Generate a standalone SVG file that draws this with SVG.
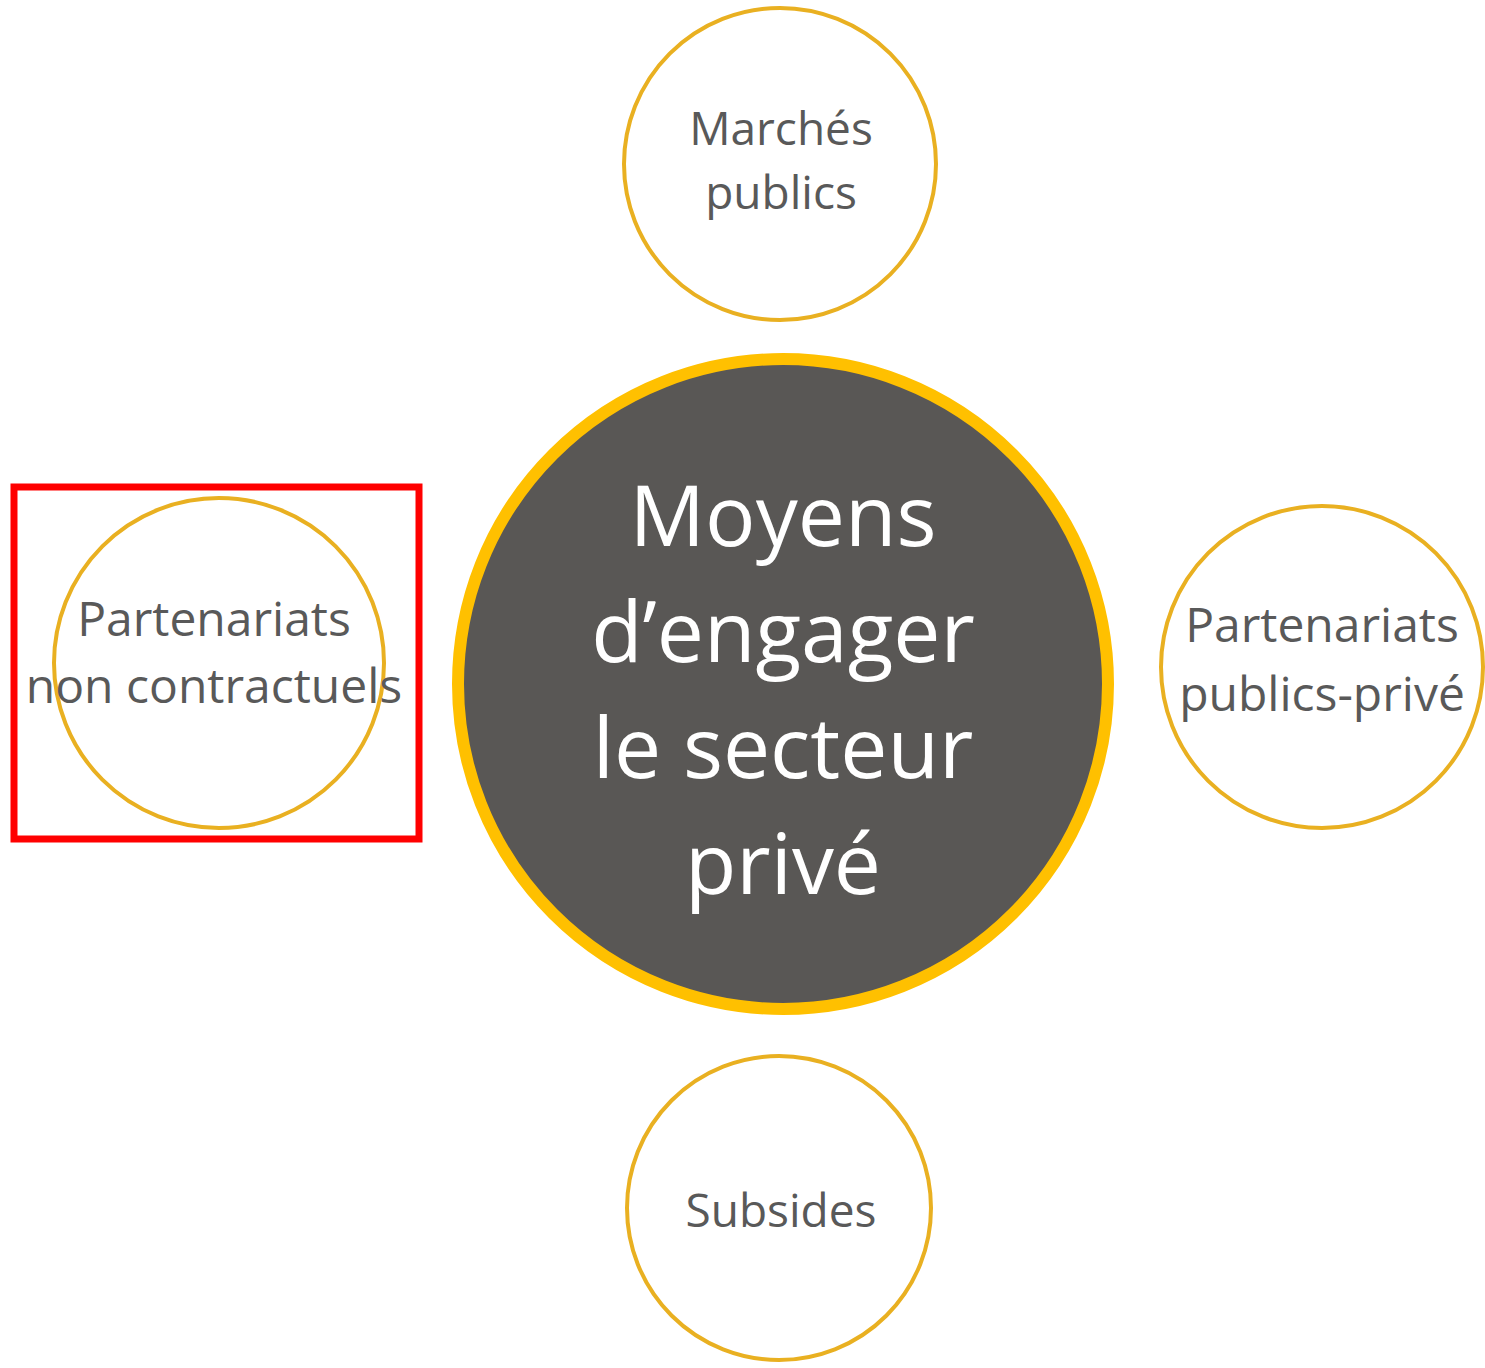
<svg xmlns="http://www.w3.org/2000/svg" width="1485" height="1368" viewBox="0 0 1485 1368">
  <style>
    .sat { fill: #ffffff; stroke: #E9B021; stroke-width: 4; }
    .hub { fill: #595755; stroke: #FFC000; stroke-width: 12; }
    .lbl { font-family: "Open Sans", "Noto Sans", sans-serif; font-size: 46px; fill: #595959; text-anchor: middle; }
    .lbl.w { font-size: 48px; }
    .hubt { font-family: "Open Sans", "Noto Sans", sans-serif; font-size: 84px; fill: #ffffff; text-anchor: middle; }
    .hl { fill: none; stroke: #FF0000; stroke-width: 7; }
  </style>
  <rect width="1485" height="1368" fill="#ffffff"/>
  <g id="connectors"></g>
  <g id="node-marches">
    <circle class="sat" cx="780" cy="164" r="156"/>
    <text class="lbl" x="781" y="145">Marchés</text>
    <text class="lbl" x="781" y="209">publics</text>
  </g>
  <g id="node-center">
    <circle class="hub" cx="783" cy="684" r="325"/>
    <text class="hubt" x="783" y="546">Moyens</text>
    <text class="hubt" x="783" y="662">d’engager</text>
    <text class="hubt" x="783" y="778">le secteur</text>
    <text class="hubt" x="783" y="894">privé</text>
  </g>
  <g id="node-nc">
    <circle class="sat" cx="219" cy="663" r="165"/>
    <text class="lbl w" x="214" y="636">Partenariats</text>
    <text class="lbl w" x="214" y="703">non contractuels</text>
    <rect class="hl" x="14" y="487" width="405" height="352"/>
  </g>
  <g id="node-ppp">
    <circle class="sat" cx="1322" cy="667" r="161"/>
    <text class="lbl w" x="1322" y="642">Partenariats</text>
    <text class="lbl w" x="1322" y="711">publics-privé</text>
  </g>
  <g id="node-subsides">
    <circle class="sat" cx="779" cy="1208" r="152"/>
    <text class="lbl" x="781" y="1227">Subsides</text>
  </g>
</svg>
